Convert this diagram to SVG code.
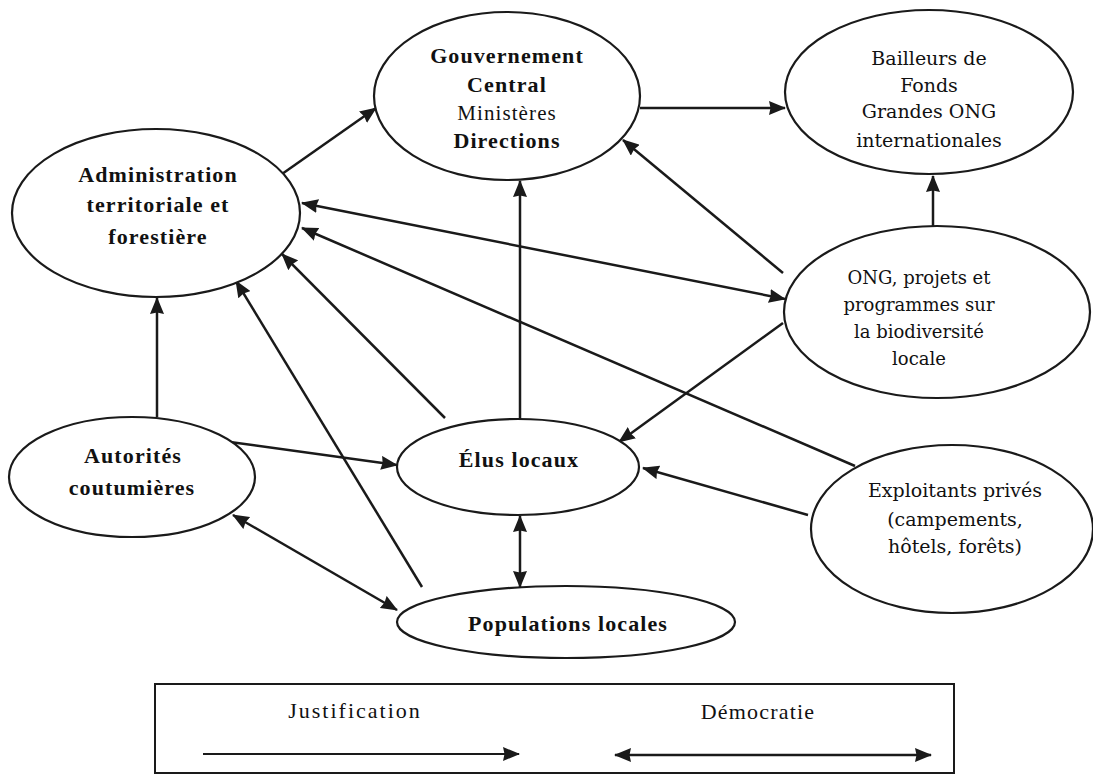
<svg xmlns="http://www.w3.org/2000/svg" width="1093" height="776" viewBox="0 0 1093 776">
<style>
  .node ellipse { fill: #ffffff; stroke: #1a1a1a; stroke-width: 2.2; }
  .b { font-family: "Liberation Serif", "Times New Roman", serif; font-weight: bold; font-size: 22px; letter-spacing: 1.1px; fill: #111111; text-anchor: middle; }
  .r { font-family: "Liberation Serif", "Times New Roman", serif; font-size: 21px; letter-spacing: 1.1px; fill: #111111; text-anchor: middle; }
  .w { font-family: "DejaVu Serif", "Liberation Serif", serif; font-size: 19px; fill: #111111; text-anchor: middle; }
  .conn path { fill: none; stroke: #1a1a1a; stroke-width: 2.5; }
  .lg { font-family: "Liberation Serif", "Times New Roman", serif; font-size: 22px; fill: #111111; text-anchor: middle; }
</style>
<defs>
  <marker id="ah" viewBox="0 0 17 14" refX="16" refY="7" markerWidth="17" markerHeight="14" markerUnits="userSpaceOnUse" orient="auto-start-reverse">
    <path d="M0,0 L17,7 L0,14 L1.5,7 z" fill="#1a1a1a"/>
  </marker>
</defs>
<rect width="1093" height="776" fill="#ffffff"/>

<g class="conn" id="connectors">
  <path d="M282,174 L376,108" marker-end="url(#ah)"/>
  <path d="M640,108 L785,108" marker-end="url(#ah)"/>
  <path d="M933,227 L933,176" marker-end="url(#ah)"/>
  <path d="M783,273 L623,140" marker-end="url(#ah)"/>
  <path d="M302,203 L785,299" marker-start="url(#ah)" marker-end="url(#ah)"/>
  <path d="M855,466 L302,228" marker-end="url(#ah)"/>
  <path d="M445,418 L282,254" marker-end="url(#ah)"/>
  <path d="M422,587 L236,281" marker-end="url(#ah)"/>
  <path d="M157,417 L157,298" marker-end="url(#ah)"/>
  <path d="M230,442 L397,465" marker-end="url(#ah)"/>
  <path d="M233,515 L397,610" marker-start="url(#ah)" marker-end="url(#ah)"/>
  <path d="M520,419 L520,181" marker-end="url(#ah)"/>
  <path d="M783,323 L619,442" marker-end="url(#ah)"/>
  <path d="M808,515 L643,468" marker-end="url(#ah)"/>
  <path d="M520,516 L520,587" marker-start="url(#ah)" marker-end="url(#ah)"/>
</g>

<g class="node" id="administration">
  <ellipse cx="156" cy="213" rx="144" ry="84"/>
  <text class="b" x="158" y="182">Administration</text>
  <text class="b" x="158" y="212">territoriale  et</text>
  <text class="b" x="158" y="244">forestière</text>
</g>

<g class="node" id="gouvernement">
  <ellipse cx="507" cy="96" rx="133" ry="84"/>
  <text class="b" x="507" y="63">Gouvernement</text>
  <text class="b" x="507" y="92">Central</text>
  <text class="r" x="507" y="120">Ministères</text>
  <text class="b" x="507" y="148">Directions</text>
</g>

<g class="node" id="bailleurs">
  <ellipse cx="929" cy="92" rx="144" ry="82"/>
  <text class="w" x="929" y="65">Bailleurs de</text>
  <text class="w" x="929" y="92">Fonds</text>
  <text class="w" x="929" y="118">Grandes ONG</text>
  <text class="w" x="929" y="147">internationales</text>
</g>

<g class="node" id="ong">
  <ellipse cx="937" cy="312" rx="153" ry="86"/>
  <text class="w" x="919" y="284" style="font-size:18px">ONG, projets et</text>
  <text class="w" x="919" y="311" style="font-size:18px">programmes sur</text>
  <text class="w" x="919" y="338" style="font-size:18px">la biodiversité</text>
  <text class="w" x="919" y="365" style="font-size:18px">locale</text>
</g>

<g class="node" id="autorites">
  <ellipse cx="132" cy="477" rx="123" ry="60"/>
  <text class="b" x="133" y="463">Autorités</text>
  <text class="b" x="132" y="495">coutumières</text>
</g>

<g class="node" id="elus">
  <ellipse cx="518" cy="467" rx="121" ry="48"/>
  <text class="b" x="519" y="467">Élus locaux</text>
</g>

<g class="node" id="populations">
  <ellipse cx="566" cy="622" rx="169" ry="36"/>
  <text class="b" x="568" y="631">Populations locales</text>
</g>

<g class="node" id="exploitants">
  <ellipse cx="952" cy="529" rx="141" ry="84"/>
  <text class="w" x="955" y="497">Exploitants privés</text>
  <text class="w" x="955" y="526">(campements,</text>
  <text class="w" x="955" y="553">hôtels, forêts)</text>
</g>

<g id="legend">
  <rect x="155" y="684" width="799" height="89" fill="none" stroke="#1a1a1a" stroke-width="2"/>
  <text class="lg" x="355" y="718" style="letter-spacing:2px">Justification</text>
  <text class="lg" x="758" y="719" style="letter-spacing:1.2px">Démocratie</text>
  <g class="conn">
    <path d="M203,754 L519,754" marker-end="url(#ah)" style="stroke-width:2"/>
    <path d="M615,755 L931,755" marker-start="url(#ah)" marker-end="url(#ah)"/>
  </g>
</g>
</svg>
